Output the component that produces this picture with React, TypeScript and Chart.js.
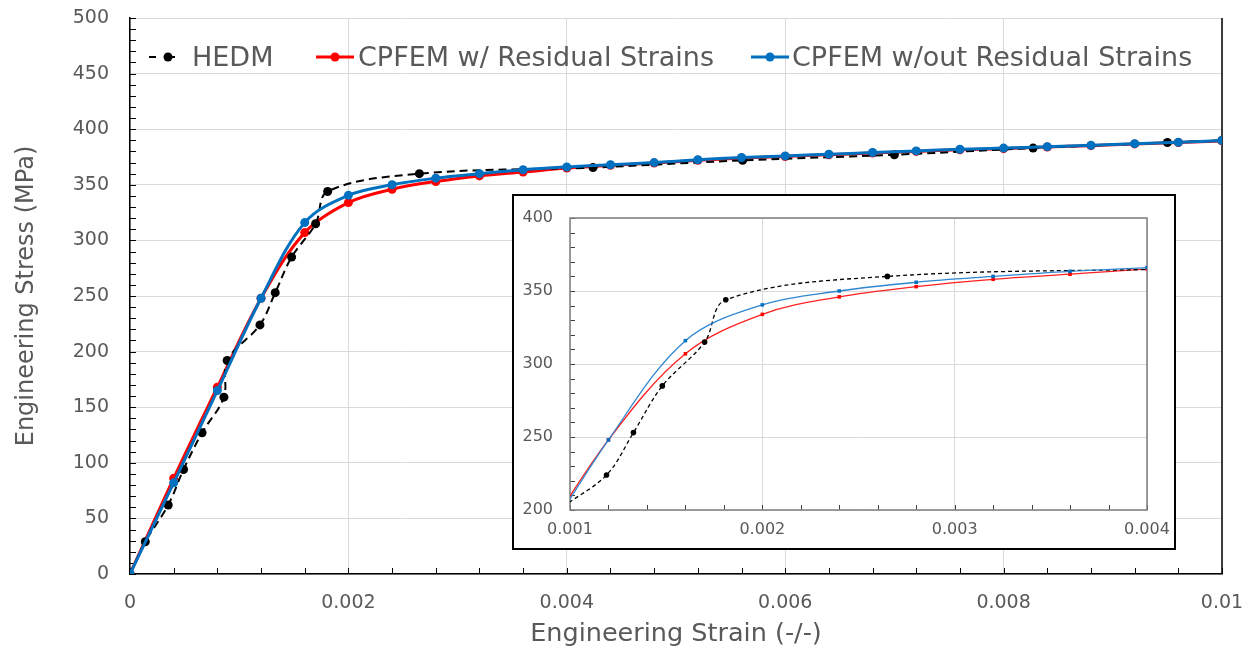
import React, { useEffect, useRef } from 'react';
import { Chart, registerables } from 'chart.js';

Chart.register(...registerables);

// ---------------- data ----------------
const hedmStrain = [0, 0.00014, 0.00035, 0.00049, 0.00066, 0.00086, 0.00089, 0.00119, 0.00133, 0.00148, 0.0017, 0.00181, 0.00265, 0.00424, 0.00561, 0.0070, 0.00827, 0.0095, 0.01];
const hedmStress = [0, 29, 62, 94, 127, 159, 192, 224, 253, 285, 315, 344, 360, 365.5, 372, 377, 383, 388, 390];

const cpfemStrain = [0, 0.0004, 0.0008, 0.0012, 0.0016, 0.002, 0.0024, 0.0028, 0.0032, 0.0036, 0.004, 0.0044, 0.0048, 0.0052, 0.0056, 0.006, 0.0064, 0.0068, 0.0072, 0.0076, 0.008, 0.0084, 0.0088, 0.0092, 0.0096, 0.01];
const withResidual = [0, 86, 168, 248, 307, 334, 346, 353, 358, 361.5, 365, 367.5, 369.5, 372, 374, 375.5, 377, 378.5, 380, 381.5, 382.5, 384, 385.2, 386.8, 388, 389.5];
const withoutResidual = [0, 82, 165, 248, 316, 340.5, 350, 356, 360, 363.5, 366, 368, 370, 372.5, 374.5, 376, 377.5, 379, 380.5, 382, 383, 384.3, 385.5, 387, 388.2, 389.8];

const mainXTicks = ['0', '0.002', '0.004', '0.006', '0.008', '0.01'];
const mainYTicks = ['0', '50', '100', '150', '200', '250', '300', '350', '400', '450', '500'];
const insetXTicks = ['0.001', '0.002', '0.003', '0.004'];
const insetYTicks = ['200', '250', '300', '350', '400'];
const legendLabels = ['HEDM', 'CPFEM w/ Residual Strains', 'CPFEM w/out Residual Strains'];
const xTitle = 'Engineering Strain (-/-)';
const yTitle = 'Engineering Stress (MPa)';

const RED = '#ff0000';
const BLUE = '#0070c0';
const FONT = "'DejaVu Sans', sans-serif";
const TEXT = '#595959';

const pts = (xs: number[], ys: number[]) => xs.map((x, i) => ({ x, y: ys[i] }));

function minorTicksPlugin(o: { xStep: number; yStep: number; len: number; color: string; frame: 'right' | 'box'; frameColor: string; frameWidth: number }) {
  return {
    id: 'minorTicks',
    beforeDatasetsDraw(chart: any) {
      const { ctx, chartArea, scales } = chart;
      const x = scales.x, y = scales.y;
      ctx.save();
      ctx.strokeStyle = o.color;
      ctx.lineWidth = 1;
      ctx.beginPath();
      for (let v = y.min; v <= y.max + 1e-9; v += o.yStep) {
        const py = Math.round(y.getPixelForValue(v)) + 0.5;
        ctx.moveTo(chartArea.left, py);
        ctx.lineTo(chartArea.left + o.len, py);
      }
      const n = Math.round((x.max - x.min) / o.xStep);
      for (let k = 0; k <= n; k++) {
        const px = Math.round(x.getPixelForValue(x.min + k * o.xStep)) + 0.5;
        ctx.moveTo(px, chartArea.bottom);
        ctx.lineTo(px, chartArea.bottom - o.len);
      }
      ctx.stroke();
      ctx.strokeStyle = o.frameColor;
      ctx.lineWidth = o.frameWidth;
      ctx.beginPath();
      if (o.frame === 'right') {
        ctx.moveTo(chartArea.right, chartArea.top);
        ctx.lineTo(chartArea.right, chartArea.bottom);
      } else {
        ctx.rect(chartArea.left, chartArea.top, chartArea.right - chartArea.left, chartArea.bottom - chartArea.top);
      }
      ctx.stroke();
      ctx.restore();
    },
  };
}

function makeDatasets(inset: boolean) {
  const lw = inset ? 1.3 : 3;
  return [
    {
      label: legendLabels[2],
      data: pts(cpfemStrain, withoutResidual),
      borderColor: inset ? '#2f86d1' : BLUE,
      backgroundColor: BLUE,
      borderWidth: lw,
      pointRadius: inset ? 2.5 : 4.5,
      pointStyle: inset ? 'rect' : 'circle',
      pointBackgroundColor: BLUE,
      pointBorderWidth: 0,
      tension: 0.35,
      order: 0,
    },
    {
      label: legendLabels[0],
      data: pts(hedmStrain, hedmStress),
      borderColor: '#000',
      backgroundColor: '#000',
      borderWidth: inset ? 1.3 : 2,
      borderDash: inset ? [4, 3] : [8, 5],
      pointRadius: inset ? 2.8 : 4.5,
      pointBackgroundColor: '#000',
      pointBorderWidth: 0,
      tension: 0.35,
      order: 1,
    },
    {
      label: legendLabels[1],
      data: pts(cpfemStrain, withResidual),
      borderColor: inset ? '#ff2020' : RED,
      backgroundColor: RED,
      borderWidth: lw,
      pointRadius: inset ? 2.5 : 4.5,
      pointStyle: inset ? 'rect' : 'circle',
      pointBackgroundColor: RED,
      pointBorderWidth: 0,
      tension: 0.35,
      order: 2,
    },
  ];
}

function MainChart() {
  const ref = useRef<HTMLCanvasElement>(null);
  useEffect(() => {
    const chart = new Chart(ref.current as HTMLCanvasElement, {
      type: 'line',
      data: { datasets: makeDatasets(false) as any },
      options: {
        responsive: false,
        animation: false,
        events: [],
        layout: { padding: { top: 18, right: 29, bottom: 0, left: 0 } },
        plugins: { legend: { display: false }, tooltip: { enabled: false } },
        scales: {
          x: {
            type: 'linear',
            min: 0,
            max: 0.01,
            afterFit: (s: any) => { s.height = 79; s.paddingLeft = 5; s.paddingRight = 5; },
            ticks: {
              stepSize: 0.002,
              autoSkip: false,
              maxRotation: 0,
              padding: 18,
              color: TEXT,
              font: { family: FONT, size: 19 },
              callback: (_v: any, i: number) => mainXTicks[i],
            },
            grid: { color: '#d9d9d9', lineWidth: 1, drawTicks: false },
            border: { color: '#000', width: 1.5 },
            title: { display: true, text: xTitle, color: TEXT, font: { family: FONT, size: 25.5 }, padding: { top: 0, bottom: 3 } },
          },
          y: {
            type: 'linear',
            min: 0,
            max: 500,
            afterFit: (s: any) => { s.width = 130; s.paddingTop = 5; s.paddingBottom = 5; },
            ticks: {
              stepSize: 50,
              autoSkip: false,
              padding: 21,
              color: TEXT,
              font: { family: FONT, size: 19 },
              callback: (_v: any, i: number) => mainYTicks[i],
            },
            grid: { color: '#d9d9d9', lineWidth: 1, drawTicks: false },
            border: { color: '#000', width: 1.5 },
            title: { display: true, text: yTitle, color: TEXT, font: { family: FONT, size: 24 }, padding: { top: 12, bottom: 0 } },
          },
        },
      },
      plugins: [minorTicksPlugin({ xStep: 0.0004, yStep: 10, len: 6, color: '#000', frame: 'right', frameColor: '#000', frameWidth: 1.5 })],
    } as any);
    return () => chart.destroy();
  }, []);
  return <canvas ref={ref} width={1251} height={653} style={{ display: 'block', position: 'absolute', left: 0, top: 0 }} />;
}

function InsetChart() {
  const ref = useRef<HTMLCanvasElement>(null);
  useEffect(() => {
    const chart = new Chart(ref.current as HTMLCanvasElement, {
      type: 'line',
      data: { datasets: makeDatasets(true) as any },
      options: {
        responsive: false,
        animation: false,
        events: [],
        layout: { padding: { top: 22, right: 27, bottom: 0, left: 0 } },
        plugins: { legend: { display: false }, tooltip: { enabled: false } },
        scales: {
          x: {
            type: 'linear',
            min: 0.001,
            max: 0.004,
            afterFit: (s: any) => { s.height = 38; s.paddingLeft = 5; s.paddingRight = 5; },
            ticks: {
              stepSize: 0.001,
              autoSkip: false,
              maxRotation: 0,
              padding: 10,
              color: TEXT,
              font: { family: FONT, size: 16 },
              callback: (_v: any, i: number) => insetXTicks[i],
            },
            grid: { color: '#d9d9d9', lineWidth: 1, drawTicks: false },
            border: { display: false },
          },
          y: {
            type: 'linear',
            min: 200,
            max: 400,
            afterFit: (s: any) => { s.width = 56; s.paddingTop = 5; s.paddingBottom = 5; },
            ticks: {
              stepSize: 50,
              autoSkip: false,
              padding: 17,
              color: TEXT,
              font: { family: FONT, size: 16 },
              callback: (_v: any, i: number) => insetYTicks[i],
            },
            grid: { color: '#d9d9d9', lineWidth: 1, drawTicks: false },
            border: { display: false },
          },
        },
      },
      plugins: [minorTicksPlugin({ xStep: 0.0002, yStep: 10, len: 5, color: '#404040', frame: 'box', frameColor: '#7f7f7f', frameWidth: 1.5 })],
    } as any);
    return () => chart.destroy();
  }, []);
  return (
    <div style={{ position: 'absolute', left: 512, top: 194, width: 664, height: 356, boxSizing: 'border-box', border: '2px solid #000', background: '#fff' }}>
      <canvas ref={ref} width={660} height={352} style={{ display: 'block' }} />
    </div>
  );
}

function LegendItem(p: { left: number; textLeft: number; width: number; color: string; dashed?: boolean; label: string }) {
  const cy = 57;
  return (
    <>
      <svg style={{ position: 'absolute', left: p.left, top: cy - 8 }} width={p.width} height={16}>
        <line x1={0} y1={8} x2={p.width} y2={8} stroke={p.color} strokeWidth={p.dashed ? 2 : 3} strokeDasharray={p.dashed ? '7 12' : undefined} />
        <circle cx={p.width / 2} cy={8} r={4.5} fill={p.color} />
      </svg>
      <div style={{ position: 'absolute', left: p.textLeft, top: cy - 14, fontFamily: FONT, fontSize: 27, lineHeight: '27px', color: TEXT, whiteSpace: 'nowrap' }}>
        {p.label}
      </div>
    </>
  );
}

export default function App() {
  return (
    <div style={{ position: 'absolute', left: 0, top: 0, width: 1251, height: 653, background: '#fff', overflow: 'hidden' }}>
      <MainChart />
      <InsetChart />
      <LegendItem left={149} textLeft={192} width={38} color="#000" dashed label={legendLabels[0]} />
      <LegendItem left={316} textLeft={358} width={38} color={RED} label={legendLabels[1]} />
      <LegendItem left={751} textLeft={792} width={38} color={BLUE} label={legendLabels[2]} />
    </div>
  );
}
